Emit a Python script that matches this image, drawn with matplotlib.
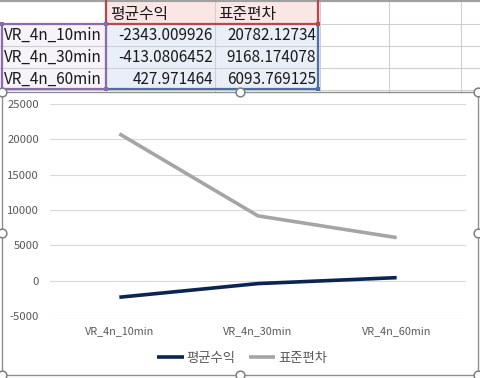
import matplotlib
matplotlib.use("Agg")
import matplotlib.pyplot as plt
from matplotlib.patches import Rectangle
from matplotlib.lines import Line2D

plt.rcParams['font.family'] = ['Noto Sans CJK KR', 'DejaVu Sans']

categories = ["VR_4n_10min", "VR_4n_30min", "VR_4n_60min"]
series_names = ["평균수익", "표준편차"]
avg_return = [-2343.009926, -413.0806452, 427.971464]
std_dev = [20782.12734, 9168.174078, 6093.769125]
y_ticks = [-5000, 0, 5000, 10000, 15000, 20000, 25000]

W, H = 481, 378
fig = plt.figure(figsize=(W / 100, H / 100), dpi=100)
fig.patch.set_facecolor("white")


def fx(x):
    return x / W


def fy(y):
    return 1 - y / H


def rect(x0, y0, x1, y1, **kw):
    r = Rectangle((fx(x0), fy(y1)), fx(x1) - fx(x0), fy(y0) - fy(y1),
                  transform=fig.transFigure, **kw)
    fig.add_artist(r)
    return r


def hline(x0, x1, y, **kw):
    fig.add_artist(Line2D([fx(x0), fx(x1)], [fy(y), fy(y)], transform=fig.transFigure, **kw))


def vline(x, y0, y1, **kw):
    fig.add_artist(Line2D([fx(x), fx(x)], [fy(y0), fy(y1)], transform=fig.transFigure, **kw))


# ---------------- spreadsheet part ----------------
col_x = [0, 106, 215, 320, 389, 461, 481]
row_y = [1, 24, 46, 68, 90]

# fills
rect(106, 1, 320, 24, facecolor="#FBE6E6", edgecolor="none", zorder=1)
rect(106, 24, 320, 90, facecolor="#E9EFF8", edgecolor="none", zorder=1)
rect(0, 24, 106, 90, facecolor="#F6F3F9", edgecolor="none", zorder=1)

grid_c = "#D0D0D0"
for x in col_x[1:-1]:
    vline(x, 0, 92, color=grid_c, lw=0.8, zorder=2)
for y in row_y:
    hline(0, W, y, color=grid_c, lw=0.8, zorder=2)
hline(0, W, 0.5, color="#A0A0A0", lw=1.5, zorder=2)

# range highlight borders
red_c = "#B5474F"
purple_c = "#8A6BAE"
blue_c = "#4D6FA6"
vline(106, 1, 24, color=red_c, lw=1.6, zorder=3)
vline(318, 1, 24, color=red_c, lw=1.6, zorder=3)
hline(106, 318, 24, color=red_c, lw=1.6, zorder=3)
hline(2, 106, 24, color=purple_c, lw=1.6, zorder=4)
vline(2, 24, 89, color=purple_c, lw=1.6, zorder=3)
vline(106, 24, 89, color=purple_c, lw=1.6, zorder=3)
hline(2, 106, 89, color=purple_c, lw=1.6, zorder=3)
vline(318, 24, 89, color=blue_c, lw=1.6, zorder=3)
hline(106, 318, 89, color=blue_c, lw=1.6, zorder=3)
for (x, y, c) in [(2, 24, purple_c), (106, 24, purple_c), (106, 89, purple_c),
                  (318, 24, red_c), (318, 89, blue_c)]:
    rect(x - 2, y - 2, x + 2, y + 2, facecolor=c, edgecolor="none", zorder=5)

cell_fs = 11.0
head_fs = 11.4
txt_c = "#1A1A1A"
fig.text(fx(110), fy(14), series_names[0], fontsize=head_fs, color=txt_c, ha="left", va="center", zorder=6)
fig.text(fx(218), fy(14), series_names[1], fontsize=head_fs, color=txt_c, ha="left", va="center", zorder=6)
for i, cat in enumerate(categories):
    yc = (row_y[i + 1] + row_y[i + 2]) / 2
    fig.text(fx(4), fy(yc), cat, fontsize=cell_fs, color=txt_c, ha="left", va="center", zorder=6)
    fig.text(fx(213), fy(yc), f"{avg_return[i]:.10g}", fontsize=cell_fs, color=txt_c,
             ha="right", va="center", zorder=6)
    fig.text(fx(316), fy(yc), f"{std_dev[i]:.10g}", fontsize=cell_fs, color=txt_c,
             ha="right", va="center", zorder=6)

# ---------------- chart part ----------------
rect(2, 92, 478, 375, facecolor="white", edgecolor="#8F8F8F", lw=1.0, zorder=7)

ax = fig.add_axes([fx(50), fy(316), fx(466) - fx(50), fy(104) - fy(316)], zorder=8)
ax.set_facecolor("none")
x = list(range(len(categories)))
ax.plot(x, avg_return, color="#0B2552", lw=2.6, label=series_names[0], solid_capstyle="butt", zorder=3)
ax.plot(x, std_dev, color="#A5A5A5", lw=2.6, label=series_names[1], solid_capstyle="butt", zorder=3)
ax.set_xlim(-0.5, 2.5)
ax.set_ylim(-5000, 25000)
ax.set_yticks(y_ticks)
ax.set_yticklabels([str(t) for t in y_ticks])
ax.set_xticks(x)
ax.set_xticklabels(categories)
ax.yaxis.grid(True, color="#D9D9D9", lw=0.8)
ax.set_axisbelow(True)
for s in ax.spines.values():
    s.set_visible(False)
ax.tick_params(axis="both", length=0, labelsize=7.8, colors="#595959")
ax.tick_params(axis="y", labelsize=8.2, pad=8)
ax.tick_params(axis="x", pad=7)

leg = ax.legend(loc="center", bbox_to_anchor=(fx(242), fy(358)), bbox_transform=fig.transFigure,
                ncol=2, frameon=False, fontsize=9.6, handlelength=2.0, columnspacing=1.0,
                handletextpad=0.2)
for t in leg.get_texts():
    t.set_color("#595959")

# selection handles
for (hx, hy) in [(2, 92), (240, 92), (478, 92), (2, 233), (478, 233), (2, 375), (240, 375), (478, 375)]:
    fig.add_artist(Line2D([fx(hx)], [fy(hy)], marker="o", markersize=6.3, markerfacecolor="white",
                          markeredgecolor="#7F7F7F", markeredgewidth=1.1, linestyle="none",
                          transform=fig.transFigure, zorder=20))

fig.savefig("out.png", dpi=100)
